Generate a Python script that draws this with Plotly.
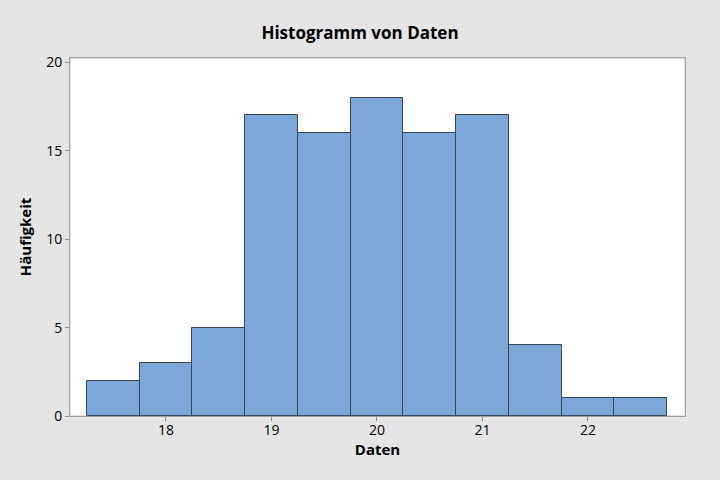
import plotly.graph_objects as go

bin_centers = [17.5, 18.0, 18.5, 19.0, 19.5, 20.0, 20.5, 21.0, 21.5, 22.0, 22.5]
counts = [2, 3, 5, 17, 16, 18, 16, 17, 4, 1, 1]
bin_width = 0.5
x_ticks = [18, 19, 20, 21, 22]
y_ticks = [0, 5, 10, 15, 20]

font_family = "Open Sans, DejaVu Sans, sans-serif"

fig = go.Figure(go.Bar(
    x=bin_centers, y=counts, width=[bin_width] * len(bin_centers),
    marker=dict(color="#7ba7d9", line=dict(color="#3b4654", width=1)),
    hoverinfo="x+y",
))

fig.update_layout(
    width=720, height=480,
    paper_bgcolor="#e5e5e5", plot_bgcolor="white",
    margin=dict(l=70, r=35, t=58, b=64, autoexpand=False),
    font=dict(family=font_family, size=14, color="black"),
    title=dict(text="<b>Histogramm von Daten</b>", x=0.5, xanchor="center",
               y=1 - 33 / 480, yanchor="middle", font=dict(size=17)),
    showlegend=False,
    bargap=0,
)
fig.update_xaxes(
    range=[17.09, 22.92], tickvals=x_ticks, ticks="outside", ticklen=4,
    tickcolor="#8c8c8c", showline=True, linecolor="#a0a0a0", mirror=True,
    showgrid=False, zeroline=False, tickfont=dict(size=14),
    ticklabelstandoff=-3,
    title=dict(text="<b>Daten</b>", font=dict(size=15), standoff=2),
)
fig.update_yaxes(
    range=[0, 20.25], tickvals=y_ticks, ticks="outside", ticklen=4,
    tickcolor="#8c8c8c", showline=True, linecolor="#a0a0a0", mirror=True,
    showgrid=False, zeroline=False, tickfont=dict(size=14),
    title=dict(text="<b>Häufigkeit</b>", font=dict(size=15), standoff=10),
)
fig.add_shape(type="rect", xref="paper", yref="paper", x0=0, x1=1, y0=0, y1=1,
              line=dict(color="#c8c8c8", width=1), layer="below")
fig.write_html("out.html", config={"displayModeBar": False},
               post_script="document.body.style.margin='0';")
